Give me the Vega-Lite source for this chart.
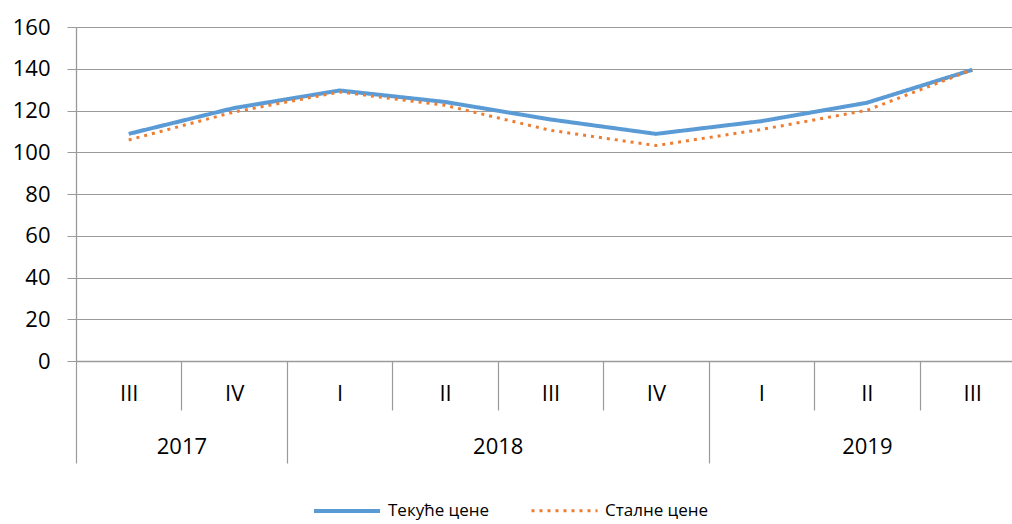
{
  "$schema": "https://vega.github.io/schema/vega-lite/v6.json",
  "width": 949,
  "height": 334,
  "autosize": "none",
  "padding": {"left": 76, "top": 27, "right": -13, "bottom": 163},
  "background": "white",
  "config": {
    "view": {"stroke": null},
    "font": "Open Sans",
    "axis": {"labelFont": "Open Sans", "labelColor": "#000000", "domainColor": "#9A9A9A", "tickColor": "#9A9A9A", "gridColor": "#9A9A9A"}
  },
  "data": {
    "values": [
      {"year": "2017", "quarter": "III", "pos": 0.5, "series": "Текуће цене", "value": 108.8},
      {"year": "2017", "quarter": "IV", "pos": 1.5, "series": "Текуће цене", "value": 121.2},
      {"year": "2018", "quarter": "I", "pos": 2.5, "series": "Текуће цене", "value": 129.6},
      {"year": "2018", "quarter": "II", "pos": 3.5, "series": "Текуће цене", "value": 124.1},
      {"year": "2018", "quarter": "III", "pos": 4.5, "series": "Текуће цене", "value": 115.7},
      {"year": "2018", "quarter": "IV", "pos": 5.5, "series": "Текуће цене", "value": 108.8},
      {"year": "2019", "quarter": "I", "pos": 6.5, "series": "Текуће цене", "value": 114.9},
      {"year": "2019", "quarter": "II", "pos": 7.5, "series": "Текуће цене", "value": 123.7},
      {"year": "2019", "quarter": "III", "pos": 8.5, "series": "Текуће цене", "value": 139.5},
      {"year": "2017", "quarter": "III", "pos": 0.5, "series": "Сталне цене", "value": 105.9},
      {"year": "2017", "quarter": "IV", "pos": 1.5, "series": "Сталне цене", "value": 119.3},
      {"year": "2018", "quarter": "I", "pos": 2.5, "series": "Сталне цене", "value": 128.9},
      {"year": "2018", "quarter": "II", "pos": 3.5, "series": "Сталне цене", "value": 122.5},
      {"year": "2018", "quarter": "III", "pos": 4.5, "series": "Сталне цене", "value": 110.5},
      {"year": "2018", "quarter": "IV", "pos": 5.5, "series": "Сталне цене", "value": 103.2},
      {"year": "2019", "quarter": "I", "pos": 6.5, "series": "Сталне цене", "value": 110.9},
      {"year": "2019", "quarter": "II", "pos": 7.5, "series": "Сталне цене", "value": 120.1},
      {"year": "2019", "quarter": "III", "pos": 8.5, "series": "Сталне цене", "value": 139.5}
    ]
  },
  "resolve": {"axis": {"x": "independent"}},
  "layer": [
    {
      "mark": {"type": "line", "strokeCap": "butt"},
      "encoding": {
        "x": {
          "field": "pos", "type": "quantitative",
          "scale": {"domain": [0, 9], "nice": false, "zero": false},
          "axis": {
            "orient": "bottom", "title": null, "grid": false, "ticks": false,
            "values": [0.5, 1.5, 2.5, 3.5, 4.5, 5.5, 6.5, 7.5, 8.5],
            "labelExpr": "['III','IV','I','II','III','IV','I','II','III'][floor(datum.value)]",
            "labelFontSize": 22, "labelBaseline": "middle", "labelPadding": 32,
            "domain": true, "domainWidth": 1.3
          }
        },
        "y": {
          "field": "value", "type": "quantitative",
          "scale": {"domain": [0, 160], "nice": false},
          "axis": {
            "title": null, "values": [0, 20, 40, 60, 80, 100, 120, 140, 160],
            "grid": true, "gridWidth": 1.2, "tickSize": 9, "labelPadding": 17, "labelFontSize": 22,
            "labelBaseline": "middle", "domainWidth": 1.3
          }
        },
        "color": {
          "field": "series", "type": "nominal",
          "scale": {"domain": ["Текуће цене", "Сталне цене"], "range": ["#5B9BD5", "#ED7D31"]},
          "legend": {
            "title": null, "orient": "none", "direction": "horizontal",
            "legendX": 258, "legendY": 471,
            "symbolType": "M-3,0H3", "symbolSize": 484, "symbolStrokeWidth": 3.5,
            "labelFont": "Open Sans", "labelFontSize": 17, "labelColor": "#000000",
            "labelOffset": 28, "columnPadding": 35
          }
        },
        "strokeDash": {
          "field": "series", "type": "nominal",
          "scale": {"domain": ["Текуће цене", "Сталне цене"], "range": [[1, 0], [3, 5]]},
          "legend": {
            "title": null, "orient": "none", "direction": "horizontal",
            "legendX": 258, "legendY": 471,
            "symbolType": "M-3,0H3", "symbolSize": 484, "symbolStrokeWidth": 3.5,
            "labelFont": "Open Sans", "labelFontSize": 17, "labelColor": "#000000",
            "labelOffset": 28, "columnPadding": 35
          }
        },
        "strokeWidth": {
          "field": "series", "type": "nominal",
          "scale": {"domain": ["Текуће цене", "Сталне цене"], "range": [4, 3]},
          "legend": null
        }
      }
    },
    {
      "mark": {"type": "point", "opacity": 0},
      "encoding": {
        "x": {
          "field": "pos", "type": "quantitative",
          "axis": {
            "orient": "bottom", "title": null, "grid": false, "labels": false, "domain": false,
            "values": [0, 1, 2, 3, 4, 5, 6, 7, 8, 9],
            "tickSize": {"condition": {"test": "datum.value == 0 || datum.value == 2 || datum.value == 6 || datum.value == 9", "value": 102}, "value": 49},
            "tickWidth": 1.2
          }
        },
        "y": {"field": "value", "type": "quantitative"}
      }
    },
    {
      "mark": {"type": "point", "opacity": 0},
      "encoding": {
        "x": {
          "field": "pos", "type": "quantitative",
          "axis": {
            "orient": "bottom", "title": null, "grid": false, "ticks": false, "domain": false,
            "values": [1, 4, 7.5],
            "labelExpr": "datum.value == 1 ? '2017' : datum.value == 4 ? '2018' : '2019'",
            "labelFontSize": 22, "labelBaseline": "middle", "labelPadding": 85
          }
        },
        "y": {"field": "value", "type": "quantitative"}
      }
    }
  ]
}
